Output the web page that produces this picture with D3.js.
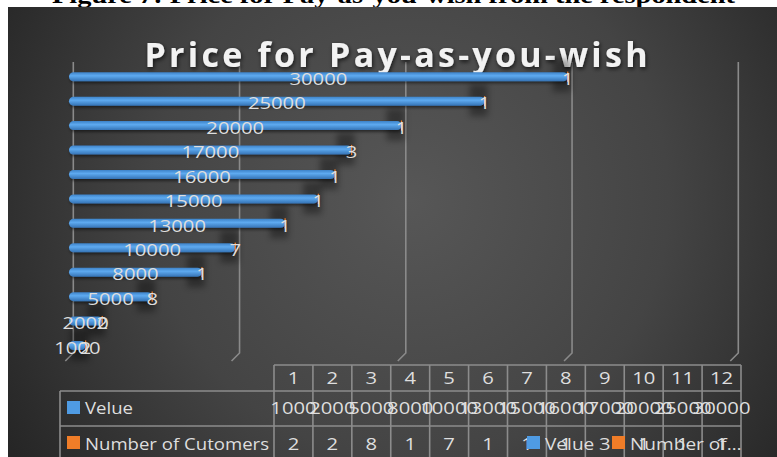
<!DOCTYPE html>
<html><head><meta charset="utf-8">
<script src="https://cdn.jsdelivr.net/npm/d3@7"></script>
<style>html,body{margin:0;padding:0;background:#fff;overflow:hidden}</style>
</head><body>
<svg id="chart" width="777" height="457"></svg>
<script>
const categories = ["1","2","3","4","5","6","7","8","9","10","11","12"];
const values = [1000,2000,5000,8000,10000,13000,15000,16000,17000,20000,25000,30000];
const customers = [2,2,8,1,7,1,1,1,3,1,1,1];
const axisTicks = [0,10000,20000,30000,40000];
const seriesNames = ["Velue","Number of Cutomers"];
const legendNames = ["Velue","Number of…"];
const seriesColors = ["#4f9be3","#f07d28"];
const titleText = "Price for Pay-as-you-wish";
const captionText = "Figure 7: Price for Pay-as-you-wish from the respondent";

const svg = d3.select("#chart");
const defs = svg.append("defs");
const FONT = "'Open Sans', sans-serif";

// background gradient
const bg = defs.append("radialGradient").attr("id","bg").attr("gradientUnits","userSpaceOnUse")
  .attr("cx",410).attr("cy",200).attr("r",470);
bg.append("stop").attr("offset","0").attr("stop-color","#575757");
bg.append("stop").attr("offset","0.55").attr("stop-color","#444");
bg.append("stop").attr("offset","1").attr("stop-color","#262626");

const bar = defs.append("linearGradient").attr("id","barg").attr("x1",0).attr("y1",0).attr("x2",0).attr("y2",1);
bar.append("stop").attr("offset","0").attr("stop-color","#3d82c8");
bar.append("stop").attr("offset","0.4").attr("stop-color","#5eaaf0");
bar.append("stop").attr("offset","1").attr("stop-color","#3573b5");

const shadow = defs.append("filter").attr("id","sh").attr("x","-20%").attr("y","-50%").attr("width","140%").attr("height","250%");
shadow.append("feDropShadow").attr("dx",1).attr("dy",2).attr("stdDeviation",1.5).attr("flood-color","#000").attr("flood-opacity",0.5);
const blur = defs.append("filter").attr("id","bl").attr("x","-50%").attr("y","-50%").attr("width","200%").attr("height","200%");
blur.append("feGaussianBlur").attr("stdDeviation",3);
const tsh = defs.append("filter").attr("id","tsh").attr("x","-10%").attr("y","-30%").attr("width","120%").attr("height","180%");
tsh.append("feDropShadow").attr("dx",1).attr("dy",2).attr("stdDeviation",2).attr("flood-color","#000").attr("flood-opacity",0.7);

// caption (cut off at top)
svg.append("text").attr("x",52).attr("y",3).attr("textLength",683).attr("lengthAdjust","spacingAndGlyphs")
  .attr("font-family","'Liberation Serif', serif").attr("font-weight","bold").attr("font-size",24)
  .attr("fill","#000").text(captionText);

// chart area
svg.append("rect").attr("x",8).attr("y",7).attr("width",769).attr("height",450).attr("fill","url(#bg)");

function txt(g, x, y, s, o = {}) {
  return g.append("text")
    .attr("transform", `translate(${x},${y}) scale(${o.sx || 1.2},1)`)
    .attr("text-anchor", o.anchor || "middle")
    .attr("font-family", FONT).attr("font-size", o.size || 16.6)
    .attr("font-weight", o.weight || "normal")
    .attr("fill", o.fill || "#dedede").text(s);
}

// scales
const x = d3.scaleLinear().domain([0, 40000]).range([69, 734]);
const y = d3.scalePoint().domain(categories.slice().reverse()).range([76.7, 345.5]);

// back grid lines (3D floor corner)
const grid = svg.append("g");
axisTicks.forEach(t => {
  const gx = x(t) + 4.3;
  grid.append("path").attr("d", `M${gx},62 V353 L${gx-8},361`)
    .attr("fill","none").attr("stroke","#8a8a8a").attr("stroke-width",1.6);
});

// title
svg.append("text").attr("x",397).attr("y",67).attr("text-anchor","middle")
  .attr("textLength",505).attr("lengthAdjust","spacing")
  .attr("font-family",FONT).attr("font-weight","bold").attr("font-size",34)
  .attr("letter-spacing",2)
  .attr("fill","#f2f2f2").attr("filter","url(#tsh)").text(titleText);

// stacked data
const rows = categories.map((c, i) => ({cat: c, value: values[i], cust: customers[i]}));
const stacked = d3.stack().keys(["value","cust"])(rows);

// dark end shadows
svg.append("g").selectAll("rect").data(stacked[1]).join("rect")
  .attr("x", d => x(d[1]) - 15).attr("y", d => y(d.data.cat) - 17)
  .attr("width", 18).attr("height", 32)
  .attr("fill","#000").attr("opacity",0.35).attr("filter","url(#bl)");

// bars
const barsG = svg.append("g");
barsG.selectAll("rect.v").data(stacked[0]).join("rect").attr("class","v")
  .attr("x", d => x(d[0])).attr("y", d => y(d.data.cat) - 4.5)
  .attr("width", d => x(d[1]) - x(d[0])).attr("height", 9).attr("rx", 4.5)
  .attr("fill","url(#barg)").attr("filter","url(#sh)");
barsG.selectAll("rect.c").data(stacked[1]).join("rect").attr("class","c")
  .attr("x", d => x(d[0])).attr("y", d => y(d.data.cat) - 4.5)
  .attr("width", d => x(d[1]) - x(d[0])).attr("height", 9)
  .attr("fill", seriesColors[1]).attr("stroke", seriesColors[1]).attr("stroke-width", 1.2);

// data labels
const lab = svg.append("g");
stacked[0].forEach(d => txt(lab, x((d[0] + d[1]) / 2), y(d.data.cat) + 8.3, d.data.value, {sx: 1.22}));
stacked[1].forEach(d => txt(lab, x((d[0] + d[1]) / 2), y(d.data.cat) + 8.3, d.data.cust, {sx: 1.22}));

// data table
const col = d3.scaleBand().domain(categories).range([274, 741]);
const tbl = svg.append("g");
const lineC = "#8c8c8c";
const hl = (x1, x2, yy) => tbl.append("line").attr("x1",x1).attr("x2",x2).attr("y1",yy).attr("y2",yy).attr("stroke",lineC).attr("stroke-width",1.6);
const vl = (xx, y1, y2) => tbl.append("line").attr("x1",xx).attr("x2",xx).attr("y1",y1).attr("y2",y2).attr("stroke",lineC).attr("stroke-width",1.6);
hl(274, 741, 365);
[391, 426, 461].forEach(yy => hl(60, 741, yy));
vl(60, 391, 461);
categories.forEach(c => vl(col(c), 365, 461));
vl(741, 365, 461);

categories.forEach((c, i) => {
  const cx = col(c) + col.bandwidth() / 2;
  txt(tbl, cx, 384, c, {sx: 1.22});
  txt(tbl, cx, 414, values[i], {sx: 1.22});
  txt(tbl, cx, 450, customers[i], {sx: 1.22});
});
[[401, 414], [436, 450]].forEach(([sy, by], i) => {
  tbl.append("rect").attr("x",67).attr("y",sy).attr("width",13).attr("height",13).attr("fill",seriesColors[i]);
  txt(tbl, 85, by, seriesNames[i], {anchor: "start", sx: 1.12});
});

// legend (overlapping the table)
const leg = svg.append("g");
[[527, 545], [612, 630]].forEach(([sx, tx], i) => {
  leg.append("rect").attr("x",sx).attr("y",436).attr("width",13).attr("height",13).attr("fill",seriesColors[i]);
  txt(leg, tx, 450, legendNames[i], {anchor: "start", sx: 1.15});
});
</script>
</body></html>
